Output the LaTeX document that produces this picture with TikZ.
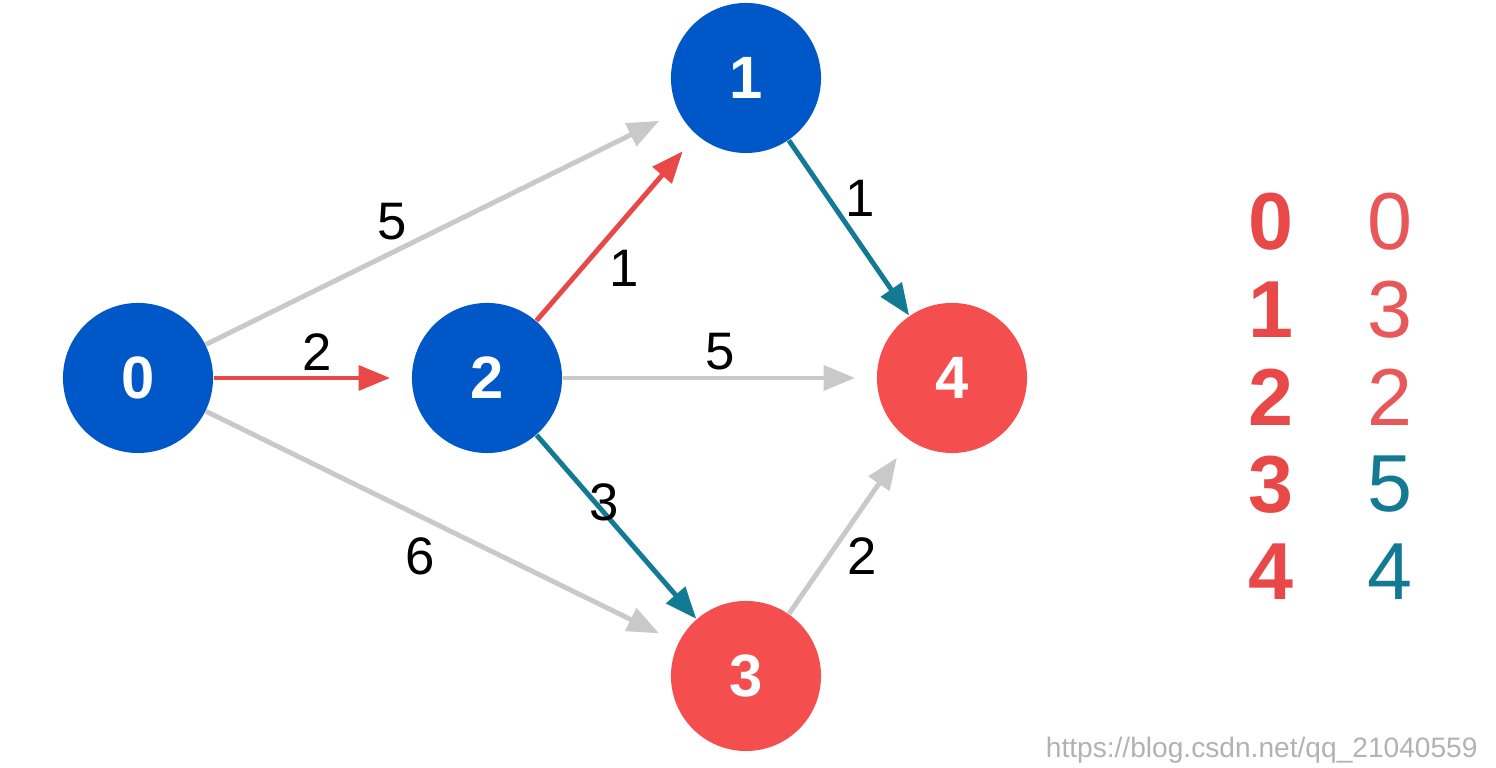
\documentclass[tikz,border=0pt]{standalone}
\usepackage{fontspec}
\setmainfont{Liberation Sans}
\usetikzlibrary{arrows.meta}
\definecolor{nblue}{HTML}{0057C8}
\definecolor{nred}{HTML}{F44E4E}
\definecolor{egrey}{HTML}{C9C9C9}
\definecolor{eteal}{HTML}{137A94}
\definecolor{ered}{HTML}{E84848}
\definecolor{tred}{HTML}{E85858}
\begin{document}
\begin{tikzpicture}[x=0.01cm,y=-0.01cm,
  vert/.style={circle,minimum size=1.5cm,inner sep=0,text=white,font=\fontsize{17}{17}\selectfont\bfseries},
  ed/.style={-{Triangle[length=9pt,width=7pt]},line width=1.4pt},
  lab/.style={font=\fontsize{15}{15}\selectfont},
  tab/.style={font=\fontsize{23}{23}\selectfont}]
\useasboundingbox (0,0) rectangle (1496,768);
\node[vert,fill=nblue] (n0) at (138,378) {0};
\node[vert,fill=nblue] (n2) at (487,378) {2};
\node[vert,fill=nblue] (n1) at (746,78) {1};
\node[vert,fill=nred] (n4) at (952,378) {4};
\node[vert,fill=nred] (n3) at (746,676) {3};
\draw[ed,egrey,shorten >=6pt] (n0) -- (n1);
\draw[ed,ered,shorten >=6pt] (n0) -- (n2);
\draw[ed,egrey,shorten >=6pt] (n0) -- (n3);
\draw[ed,ered,shorten >=6pt] (n2) -- (n1);
\draw[ed,egrey,shorten >=6pt] (n2) -- (n4);
\draw[ed,eteal] (n2) -- (n3);
\draw[ed,eteal] (n1) -- (n4);
\draw[ed,egrey,shorten >=6pt] (n3) -- (n4);
\node[lab] (l1) at (392,222) {5};
\node[lab] (l2) at (317,352) {2};
\node[lab] (l3) at (420,556) {6};
\node[lab] (l4) at (624,268) {1};
\node[lab] (l5) at (720,352) {5};
\node[lab] (l6) at (604,502) {3};
\node[lab] (l7) at (860,198) {1};
\node[lab] (l8) at (862,556) {2};
\foreach \i/\v/\c [count=\k from 0] in {0/0/tred,1/3/tred,2/2/tred,3/5/eteal,4/4/eteal}{
  \node[tab,text=ered,font=\fontsize{23}{23}\selectfont\bfseries] (a\k) at (1271,{222+87.5*\k}) {\i};
  \node[tab,text=\c] (b\k) at (1390,{222+87.5*\k}) {\v};
}
\node[text=gray!60,font=\fontsize{8}{8}\selectfont,anchor=east] (wm) at (1490,750) {https://blog.csdn.net/qq\_21040559};
\end{tikzpicture}
\end{document}
